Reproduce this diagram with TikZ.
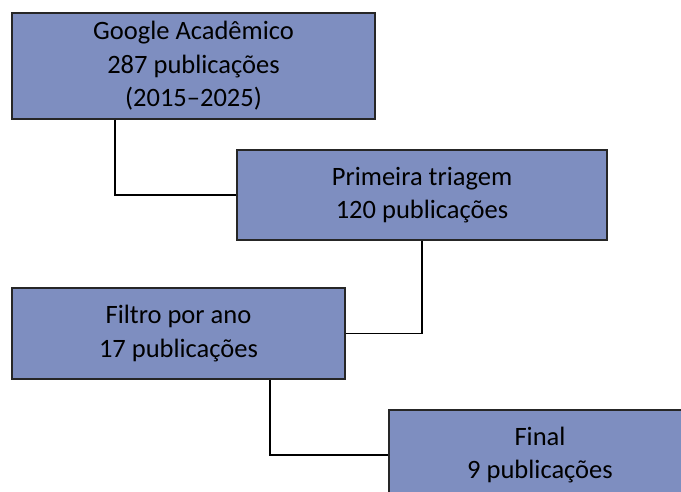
\documentclass[tikz,border=0pt]{standalone}
\usepackage{fontspec}
\setmainfont{Carlito}
\definecolor{boxfill}{HTML}{7E8EC0}
\definecolor{boxline}{HTML}{262626}
\tikzset{
  stagebox/.style={draw=boxline, line width=1.3pt, fill=boxfill, align=center,
    inner sep=0pt, font=\fontsize{26.5}{33.5}\selectfont, text=black},
  link/.style={draw=black, line width=1.1pt}
}
\begin{document}
\begin{tikzpicture}[x=1pt,y=-1pt]
\clip (0,0) rectangle (681,492);
\fill[white] (0,0) rectangle (681,492);
\node[stagebox, minimum width=363pt, minimum height=106pt] (b1) at (193.5,66) {Google Acadêmico\\287 publicações\\(2015–2025)};
\node[stagebox, minimum width=370pt, minimum height=90pt] (b2) at (422,195) {Primeira triagem\\120 publicações};
\node[stagebox, minimum width=333pt, minimum height=91pt] (b3) at (178.5,333.5) {Filtro por ano\\17 publicações};
\node[stagebox, minimum width=302pt, minimum height=90pt] (b4) at (540,455) {Final\\9 publicações};
\draw[link] ([xshift=-78.5pt]b1.south) |- (b2.west);
\draw[link] (b2.south) |- (b3.east);
\draw[link] ([xshift=91.5pt]b3.south) |- (b4.west);
\end{tikzpicture}
\end{document}
